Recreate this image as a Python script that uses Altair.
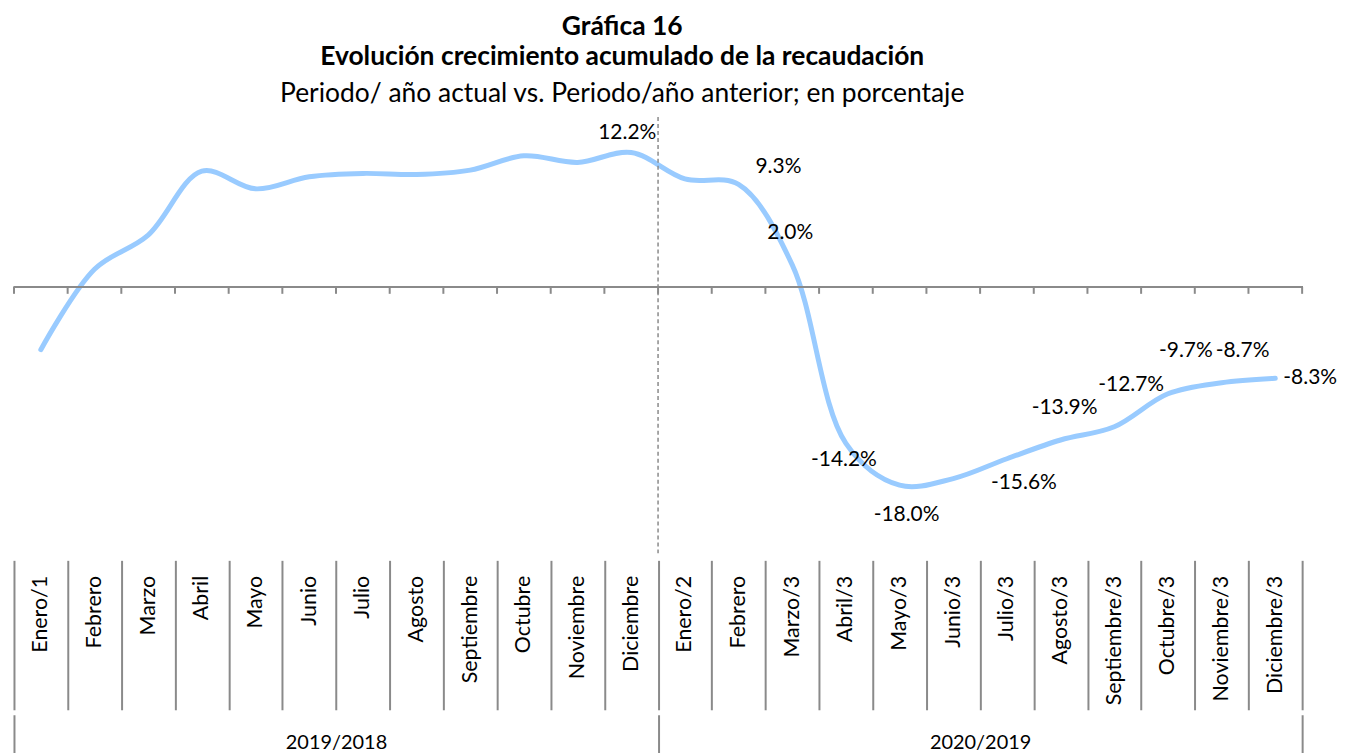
import altair as alt
import pandas as pd

# ---------------- data ----------------
months = ["Enero/1", "Febrero", "Marzo", "Abril", "Mayo", "Junio", "Julio", "Agosto",
          "Septiembre", "Octubre", "Noviembre", "Diciembre",
          "Enero/2", "Febrero", "Marzo/3", "Abril/3", "Mayo/3", "Junio/3", "Julio/3",
          "Agosto/3", "Septiembre/3", "Octubre/3", "Noviembre/3", "Diciembre/3"]
values = [-5.7, 1.6, 4.7, 10.5, 8.9, 10.0, 10.3, 10.2, 10.6, 11.9, 11.3, 12.2,
          9.8, 9.3, 2.0, -14.2, -18.0, -17.4, -15.6, -13.9, -12.7, -9.7, -8.7, -8.3]
group_names = ["2019/2018", "2020/2019"]
labeled_idx = [11, 13, 14, 15, 16, 18, 19, 20, 21, 22, 23]

# ---------------- styling ----------------
FONT = "Lato"
GRAY = "#8a8a8a"
LINE = "#99cbff"
W, H = 1293, 440
YDOM = [-24.37, 15.42]
TICK_LEN = 0.63  # small tick below the zero line, in axis units (~7px)
label_offsets = {11: (-4, -20), 13: (40, -17), 14: (-2, -32), 15: (-2, 17),
                 16: (7, 30), 18: (17, 24), 19: (4, -32), 20: (17, -42),
                 21: (18, -43), 22: (21, -32), 23: (35, 0)}

keys = [f"{i:02d}|{m}" for i, m in enumerate(months)]
df = pd.DataFrame({"key": keys, "value": values})
xscale = alt.Scale(type="band", domain=keys, paddingInner=0, paddingOuter=0)
yscale = alt.Scale(domain=YDOM, nice=False, zero=False)

line = alt.Chart(df).mark_line(interpolate="catmull-rom", color=LINE, strokeWidth=5,
                               strokeCap="round").encode(
    x=alt.X("key:N", scale=xscale, axis=None),
    y=alt.Y("value:Q", scale=yscale, axis=None),
)

zero = alt.Chart(df).mark_rule(color=GRAY, strokeWidth=2).encode(
    y=alt.Y(datum=0, scale=yscale, axis=None))

ticks0 = alt.Chart(df).mark_rule(color=GRAY, strokeWidth=2).encode(
    x=alt.X("key:N", scale=xscale, axis=None, bandPosition=0),
    y=alt.Y(datum=0, scale=yscale, axis=None),
    y2=alt.Y2(datum=-TICK_LEN),
)
ticks_end = alt.Chart(df.iloc[[-1]]).mark_rule(color=GRAY, strokeWidth=2).encode(
    x=alt.X("key:N", scale=xscale, axis=None, bandPosition=1),
    y=alt.Y(datum=0, scale=yscale, axis=None),
    y2=alt.Y2(datum=-TICK_LEN),
)

divider = alt.Chart(df.iloc[[12]]).mark_rule(color=GRAY, strokeWidth=1.5,
                                            strokeDash=[4, 3]).encode(
    x=alt.X("key:N", scale=xscale, axis=None, bandPosition=0),
)

label_layers = []
for i in labeled_idx:
    dx, dy = label_offsets[i]
    ldf = pd.DataFrame({"key": [keys[i]], "value": [values[i]],
                        "txt": [f"{values[i]:.1f}%"]})
    label_layers.append(
        alt.Chart(ldf).mark_text(font=FONT, fontSize=21, color="black", dx=dx, dy=dy,
                                 align="center", baseline="middle").encode(
            x=alt.X("key:N", scale=xscale, axis=None),
            y=alt.Y("value:Q", scale=yscale, axis=None),
            text="txt:N",
        )
    )

main = alt.layer(line, divider, zero, ticks0, ticks_end, *label_layers).properties(
    width=W, height=H)

# category table (month labels with separators)
cat = alt.Chart(df).mark_point(opacity=0).encode(
    x=alt.X("key:N", scale=xscale,
            axis=alt.Axis(orient="bottom", tickBand="extent", tickSize=150,
                          tickColor=GRAY, tickWidth=2, domain=False, labelAngle=-90,
                          labelPadding=-135, labelFontSize=21.5, labelFont=FONT,
                          labelColor="black", title=None,
                          labelExpr="split(datum.value, '|')[1]",
                          labelOverlap=False, labelFlush=False)),
).properties(width=W, height=1)

# group row (years)
gdf = pd.DataFrame({"group": group_names})
grp = alt.Chart(gdf).mark_point(opacity=0).encode(
    x=alt.X("group:N",
            scale=alt.Scale(type="band", domain=group_names, paddingInner=0,
                            paddingOuter=0),
            axis=alt.Axis(orient="bottom", tickBand="extent", tickSize=43,
                          tickColor=GRAY, tickWidth=2, domain=False, labelAngle=0,
                          labelPadding=-25, labelFontSize=20, labelFont=FONT,
                          labelColor="black", title=None, labelFlush=False)),
).properties(width=W, height=1)

chart = alt.vconcat(main, cat, grp, spacing=0).resolve_scale(
    x="independent").properties(
    title=alt.TitleParams(
        text=["Gráfica 16", "Evolución crecimiento acumulado de la recaudación"],
        subtitle="Periodo/ año actual vs. Periodo/año anterior; en porcentaje",
        anchor="middle", font=FONT, fontSize=26.5, fontWeight="bold",
        color="black", lineHeight=31, subtitleFont=FONT, subtitleFontSize=26.5,
        subtitleColor="black", subtitlePadding=10, offset=9, dx=-48),
    padding={"left": -5, "top": 4, "right": 0, "bottom": 0},
).configure_view(stroke=None)

chart.save("out.html", embed_options={"renderer": "svg", "actions": False})
